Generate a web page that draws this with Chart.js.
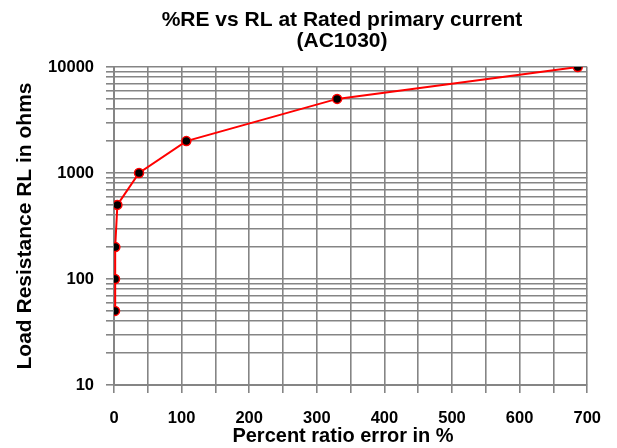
<!DOCTYPE html>
<html>
<head>
<meta charset="utf-8">
<script src="https://cdn.jsdelivr.net/npm/chart.js"></script>
<style>
	body { margin: 0; background: #fff; }
	#cadre { width: 617px; height: 448px; }
</style>
</head>
<body>
<div id="cadre"><canvas id="chart1"></canvas></div>
<script>
// valeurs
const erreurPct = [1.5, 1.5, 2, 5, 37, 107, 330, 686];
const resistance = [50, 100, 200, 500, 1000, 2000, 5000, 10000];

// graduations
const decades = [10, 100, 1000, 10000];
const pasX = 50;
const etiquettesX = [0, 100, 200, 300, 400, 500, 600, 700];

const titre1 = '%RE vs RL at Rated primary current';
const titre2 = '(AC1030)';
const titreX = 'Percent ratio error in %';
const titreY = 'Load Resistance RL in ohms';

// lignes de la grille log : 1..9 x 10^n
var grilleY = [];
for (var i = 0; i < decades.length - 1; i++) {
	for (var k = 1; k < 10; k++) grilleY.push(decades[i] * k);
}
grilleY.push(decades[decades.length - 1]);

const police = '"Liberation Sans", Arial, sans-serif';
const gris = '#858585';

// titre principal et titre de l'axe x dessinés a la main (centrés comme sur l'original)
const titres = {
	id: 'titres',
	afterDraw(chart) {
		const ctx = chart.ctx;
		ctx.save();
		ctx.fillStyle = '#000';
		ctx.textAlign = 'center';
		ctx.textBaseline = 'alphabetic';
		ctx.font = 'bold 21px ' + police;
		ctx.fillText(titre1, 342, 26);
		ctx.fillText(titre2, 342, 47);
		ctx.font = 'bold 20px ' + police;
		ctx.fillText(titreX, 343, 442);
		ctx.restore();
	}
};

const points = erreurPct.map((x, i) => ({ x: x, y: resistance[i] }));

new Chart(document.getElementById('chart1'), {
	type: 'line',
	data: {
		datasets: [
			{
				data: points,
				borderColor: '#ff0000',
				borderWidth: 2,
				backgroundColor: '#000',
				pointBackgroundColor: '#000',
				pointBorderColor: '#ff0000',
				pointBorderWidth: 1.5,
				pointRadius: 4.5,
				tension: 0,
			},
		]
	},
	plugins: [titres],
	options: {
		responsive: true,
		maintainAspectRatio: false,
		animation: false,
		layout: { padding: { top: 67, right: 26, left: 0, bottom: 0 } },
		plugins: {
			legend: { display: false },
			tooltip: { enabled: false },
			title: { display: false },
		},
		scales: {
			x: {
				type: 'linear',
				min: 0,
				max: 700,
				ticks: {
					stepSize: pasX,
					autoSkip: false,
					maxRotation: 0,
					padding: 16,
					color: '#000',
					font: { family: police, size: 16.5, weight: 'bold' },
					callback: (v) => etiquettesX.includes(v) ? String(v) : '',
				},
				grid: { color: gris, lineWidth: 1.6, tickLength: 8, tickColor: gris },
				border: { color: gris, width: 2 },
				afterFit: (scale) => { scale.height = 63; },
			},
			y: {
				type: 'logarithmic',
				min: 10,
				max: 10000,
				afterBuildTicks: (scale) => { scale.ticks = grilleY.map(v => ({ value: v })); },
				ticks: {
					autoSkip: false,
					padding: 12,
					color: '#000',
					font: { family: police, size: 16.5, weight: 'bold' },
					callback: (v) => decades.includes(v) ? String(v) : '',
				},
				title: {
					display: true,
					text: titreY,
					color: '#000',
					font: { family: police, size: 21, weight: 'bold', lineHeight: 1.2 },
					padding: { top: 13, bottom: 0 },
				},
				grid: { color: gris, lineWidth: 1.6, tickLength: 8, tickColor: gris },
				border: { color: gris, width: 2 },
				afterFit: (scale) => { scale.width = 114; },
			}
		}
	}
});
</script>
</body>
</html>
